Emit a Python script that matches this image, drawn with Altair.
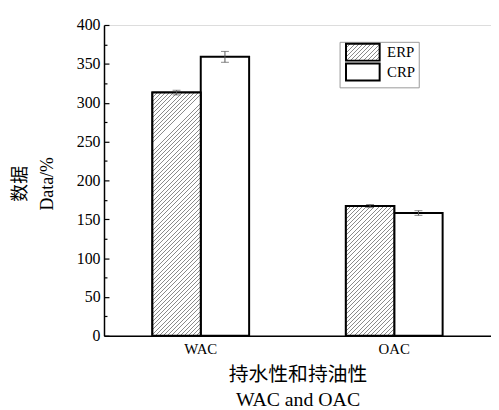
import json
import altair as alt
import pandas as pd

# ---- data ----
groups = ["WAC", "WAC", "OAC", "OAC"]
series = ["ERP", "CRP", "ERP", "CRP"]
values = [313, 359, 167, 158]
errors = [3, 7, 2, 3]
y_ticks = [0, 50, 100, 150, 200, 250, 300, 350, 400]
y_minor = [25, 75, 125, 175, 225, 275, 325, 375]

df = pd.DataFrame({"group": groups, "series": series, "value": values, "err": errors})
df["lo"] = df["value"] - df["err"]
df["hi"] = df["value"] + df["err"]

W, H = 391, 314
YMAX = 400
SERIF = "Liberation Serif, Noto Sans CJK SC"
BAR_W = W / 2 * 0.5 / 2


def hatch(w, h, period=4.2, line=1.0, color="#8a8a8a"):
    L = w + h
    x2 = w * L / (w * w + h * h)
    y2 = h * L / (w * w + h * h)
    stops = []
    pos = 0.0
    while pos < L:
        a = pos / L
        b = min((pos + line) / L, 1)
        c = min((pos + period) / L, 1)
        stops += [{"offset": a, "color": color}, {"offset": b, "color": color},
                  {"offset": b, "color": "white"}, {"offset": c, "color": "white"}]
        pos += period
    return {"gradient": "linear", "x1": 0, "y1": 0, "x2": x2, "y2": y2, "stops": stops}


def hatch_for(v):
    return hatch(BAR_W, v * H / YMAX)


legend_grad = hatch(34, 17)

xenc = alt.X("group:N", sort=["WAC", "OAC"],
             scale=alt.Scale(domain=["WAC", "OAC"], paddingInner=0.5, paddingOuter=0.25),
             axis=alt.Axis(ticks=False, domainColor="black", domainWidth=1.5, labelAngle=0,
                           labelFont=SERIF, labelFontSize=15, labelColor="black", labelPadding=6,
                           title=["持水性和持油性", "WAC and OAC"], titleFont=SERIF,
                           titleFontSize=20, titleFontWeight="normal", titleColor="black",
                           titleLineHeight=25, titlePadding=8))
xoff = alt.XOffset("series:N", scale=alt.Scale(domain=["ERP", "CRP"], paddingInner=0, paddingOuter=0))
yscale = alt.Scale(domain=[0, YMAX], nice=False)

base = alt.Chart(df)

bars = base.mark_bar(stroke="black", strokeWidth=2).encode(
    x=xenc, xOffset=xoff,
    y=alt.Y("value:Q", scale=yscale,
            axis=alt.Axis(values=y_ticks, ticks=False, grid=False, domainColor="black",
                          domainWidth=1.5, labelFont=SERIF, labelFontSize=16,
                          labelColor="black", labelPadding=4,
                          title=["数据", "Data/%"], titleFont=SERIF, titleFontSize=18,
                          titleFontWeight="normal", titleColor="black", titleLineHeight=27,
                          titleY=160, titlePadding=20)),
    fill=alt.Fill("series:N",
                  scale=alt.Scale(domain=["ERP", "CRP"],
                                  range=[alt.ExprRef(json.dumps(legend_grad)), "white"]),
                  legend=alt.Legend(title=None, orient="none", legendX=238, legendY=17,
                                    symbolType="M-1,-2.125H7.5V2.125H-1Z", symbolSize=64,
                                    symbolStrokeColor="black", symbolStrokeWidth=2,
                                    labelFont=SERIF, labelFontSize=15, labelColor="black",
                                    labelOffset=30, strokeColor="#999999", padding=3,
                                    rowPadding=-5)),
)

hatch_layer = base.transform_filter(alt.datum.series == "ERP").mark_bar(
    stroke="black", strokeWidth=2).encode(
    x=xenc, xOffset=xoff,
    y=alt.Y("value:Q", scale=yscale, axis=None),
    fill=alt.condition(alt.datum.group == "WAC",
                       alt.value(hatch_for(values[0])), alt.value(hatch_for(values[2]))),
)

rules = base.mark_rule(color="#555555", strokeWidth=1).encode(
    x=xenc, xOffset=xoff,
    y=alt.Y("lo:Q", scale=yscale, axis=None), y2="hi:Q")
cap_hi = base.mark_tick(color="#555555", thickness=1, size=8).encode(
    x=xenc, xOffset=xoff, y=alt.Y("hi:Q", scale=yscale, axis=None))
cap_lo = base.mark_tick(color="#555555", thickness=1, size=8).encode(
    x=xenc, xOffset=xoff, y=alt.Y("lo:Q", scale=yscale, axis=None))

major_ticks = base.mark_point(opacity=0).encode(
    y=alt.Y("value:Q", scale=yscale,
            axis=alt.Axis(orient="left", values=y_ticks, offset=-5, tickSize=5,
                          tickColor="black", tickWidth=1.2, labels=False, domain=False,
                          grid=False, title=None)))
minor_ticks = base.mark_point(opacity=0).encode(
    y=alt.Y("value:Q", scale=yscale,
            axis=alt.Axis(orient="left", values=y_minor, offset=-3, tickSize=3,
                          tickColor="black", tickWidth=1.2, labels=False, domain=False,
                          grid=False, title=None)))

chart = alt.layer(bars, hatch_layer, rules, cap_hi, cap_lo, major_ticks, minor_ticks).resolve_axis(
    y="independent").properties(
    width=W, height=H,
    autosize=alt.AutoSizeParams(type="none"),
    padding={"left": 97, "top": 15, "right": 0, "bottom": 90},
).configure_view(stroke=None).configure(background="white")

chart.save("out.html", embed_options={"renderer": "svg", "actions": False})
